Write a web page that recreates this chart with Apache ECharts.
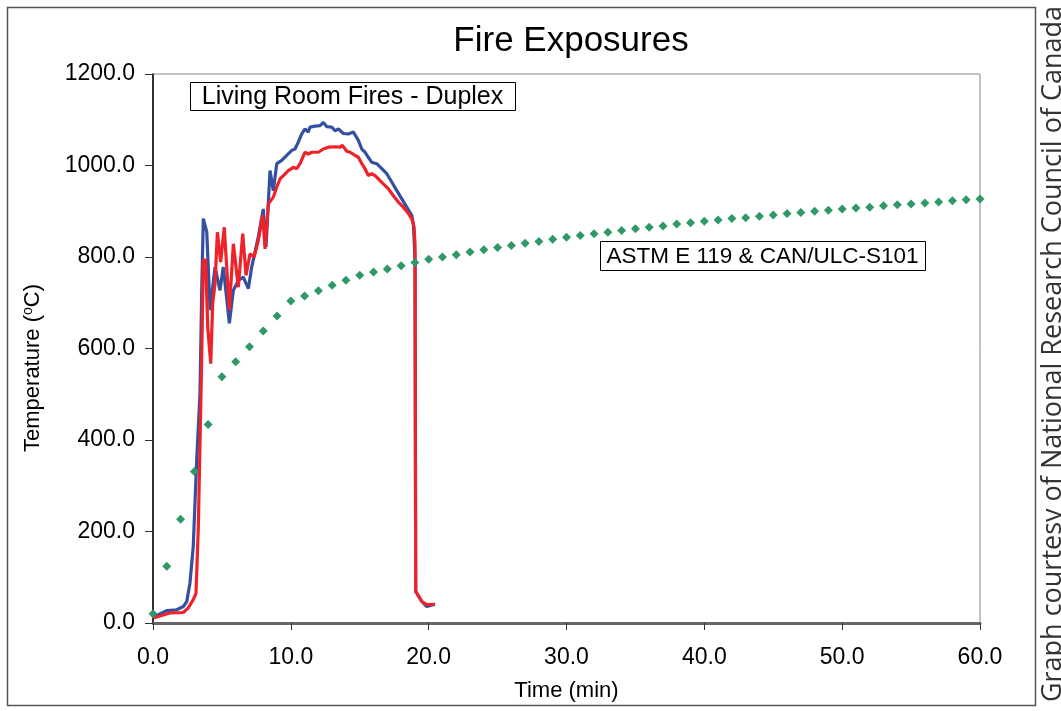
<!DOCTYPE html>
<html>
<head>
<meta charset="utf-8">
<script src="https://cdn.jsdelivr.net/npm/echarts@6/dist/echarts.min.js"></script>
<style>
  html, body { margin: 0; padding: 0; background: #fff; }
  #chart { width: 1061px; height: 711px; }
</style>
</head>
<body>
<div id="chart"></div>
<script>
// living room fire, duplex - two thermocouples
var blueTime = [0, 0.38, 0.99, 1.72, 2.2, 2.45, 2.68, 2.92, 3.17, 3.41, 3.53, 3.65, 3.9, 4.14, 4.5, 4.86, 5.1, 5.54, 5.83, 6.19, 6.55, 6.92, 7.16, 7.64, 8.0, 8.2, 8.49, 8.73, 8.98, 9.34, 9.7, 10.07, 10.3, 10.54, 10.79, 11.03, 11.27, 11.39, 11.76, 12.12, 12.36, 12.6, 12.97, 13.21, 13.45, 13.81, 14.17, 14.54, 14.66, 14.9, 15.15, 15.38, 15.62, 15.87, 16.23, 16.6, 16.96, 17.32, 17.69, 18.05, 18.41, 18.77, 18.89, 18.96, 19.01, 19.06, 19.5, 19.86, 20.34, 20.46];
var blueTemp = [11, 18, 27, 29, 36, 47, 87, 167, 356, 502, 720, 884, 855, 684, 778, 727, 778, 655, 727, 749, 756, 731, 778, 844, 905, 822, 989, 945, 1004, 1011, 1022, 1033, 1036, 1051, 1069, 1080, 1073, 1084, 1086, 1087, 1094, 1085, 1084, 1076, 1080, 1070, 1069, 1073, 1072, 1055, 1036, 1029, 1018, 1007, 1004, 993, 982, 964, 945, 927, 909, 891, 873, 829, 793, 69, 47, 36, 40, 41];

var redTime = [0.02, 1.23, 2.2, 2.56, 2.92, 3.12, 3.29, 3.41, 3.53, 3.65, 3.82, 3.97, 4.19, 4.33, 4.5, 4.67, 4.91, 5.17, 5.54, 5.83, 6.19, 6.51, 6.75, 7.04, 7.33, 7.64, 7.96, 8.13, 8.37, 8.73, 8.98, 9.22, 9.46, 9.82, 10.18, 10.43, 10.67, 11.03, 11.27, 11.52, 12.0, 12.36, 12.72, 13.21, 13.57, 13.74, 14.06, 14.3, 14.66, 14.9, 15.15, 15.38, 15.62, 15.87, 16.11, 16.35, 16.71, 17.08, 17.44, 17.8, 18.16, 18.53, 18.77, 18.94, 19.01, 19.06, 19.5, 19.86, 20.46];
var redTemp = [11, 22, 23, 33, 51, 65, 211, 393, 575, 793, 793, 647, 567, 698, 742, 854, 789, 865, 684, 829, 734, 851, 760, 807, 800, 836, 891, 818, 916, 931, 953, 971, 978, 989, 996, 993, 1004, 1029, 1025, 1029, 1029, 1036, 1040, 1041, 1040, 1044, 1031, 1029, 1022, 1018, 1004, 993, 978, 982, 978, 971, 960, 949, 934, 920, 909, 895, 884, 865, 829, 69, 47, 40, 41];

// standard fire curve, one point per minute 0..60
var astmTemp = [20, 124, 227, 331, 434, 538, 571, 604, 638, 671, 704, 715, 726, 738, 749, 760, 767, 774, 781, 788, 795, 800, 805, 811, 816, 821, 825, 830, 834, 839, 843, 847, 851, 854, 858, 862, 865, 868, 872, 875, 878, 881, 884, 886, 889, 892, 895, 897, 900, 902, 905, 907, 909, 912, 914, 916, 918, 920, 923, 925, 927];

function pairs(xs, ys) {
  return xs.map(function (x, i) { return [x, ys[i]]; });
}
var astmData = astmTemp.map(function (v, i) { return [i, v]; });

var myChart = echarts.init(document.getElementById('chart'));
var fnt = 'Liberation Sans, Arial, sans-serif';

// boxed note: rect + centred text
function noteBox(x, y, w, h, txt, size) {
  return {
    type: 'group', silent: true,
    children: [{
      type: 'rect', shape: { x: x + 0.5, y: y + 0.5, width: w, height: h },
      style: { fill: '#fff', stroke: '#000', lineWidth: 1 }
    }, {
      type: 'text', x: x + w / 2, y: y + h / 2 + 1,
      style: { text: txt, fontFamily: fnt, fontSize: size, fill: '#000',
        textAlign: 'center', textVerticalAlign: 'middle' }
    }]
  };
}

option = {
  animation: false,
  backgroundColor: '#fff',
  title: {
    text: 'Fire Exposures',
    left: 566, top: 19, textAlign: 'center',
    textStyle: { fontFamily: fnt, fontSize: 35, fontWeight: 'normal', color: '#000' }
  },
  graphic: [{
    type: 'rect',
    shape: { x: 7.5, y: 7.5, width: 1028, height: 698 },
    style: { fill: 'none', stroke: '#555', lineWidth: 1.5 },
    silent: true
  },
  noteBox(190, 82, 325, 28, 'Living Room Fires - Duplex', 25),
  noteBox(600, 241, 325, 29, 'ASTM E 119 & CAN/ULC-S101', 22.5),
  {
    // y axis title, sits a little below the axis middle
    type: 'text', x: 33, y: 368, rotation: Math.PI / 2, silent: true,
    style: {
      text: '{a|Temperature (}{s|o}{a|C)}',
      textAlign: 'center', textVerticalAlign: 'middle',
      rich: {
        a: { fontFamily: fnt, fontSize: 22, fill: '#000' },
        s: { fontFamily: fnt, fontSize: 14, fill: '#000', verticalAlign: 'top', padding: [0, 0, 10, 0] }
      }
    }
  },
  {
    type: 'text',
    x: 1053, y: 354, rotation: Math.PI / 2,
    style: {
      text: 'Graph courtesy of National Research Council of Canada',
      fontFamily: 'Open Sans, Noto Sans, sans-serif', fontSize: 27, fill: '#333',
      textAlign: 'center', textVerticalAlign: 'middle'
    },
    silent: true
  }],
  grid: {
    left: 153, right: 81, top: 74, bottom: 88,
    show: true, borderColor: '#888', borderWidth: 1
  },
  xAxis: {
    type: 'value', min: 0, max: 60, interval: 10,
    name: 'Time (min)', nameLocation: 'middle', nameGap: 57,
    nameTextStyle: { fontFamily: fnt, fontSize: 22, color: '#000' },
    axisLine: { lineStyle: { color: '#666', width: 3 } },
    axisTick: { show: true, length: 7, lineStyle: { color: '#333', width: 1 } },
    axisLabel: { fontFamily: fnt, fontSize: 23, color: '#000', margin: 23,
      formatter: function (v) { return v.toFixed(1); } },
    splitLine: { show: false }
  },
  yAxis: {
    type: 'value', min: 0, max: 1200, interval: 200,
    axisLine: { show: true, lineStyle: { color: '#000', width: 1.5 } },
    axisTick: { show: true, length: 8, lineStyle: { color: '#333', width: 1 } },
    axisLabel: { fontFamily: fnt, fontSize: 23, color: '#000', margin: 18,
      formatter: function (v) { return v.toFixed(1); } },
    splitLine: { show: false }
  },
  series: [{
    name: 'TC1', type: 'line', data: pairs(blueTime, blueTemp),
    showSymbol: false, lineStyle: { color: '#3450a0', width: 3.2 }, z: 2
  }, {
    name: 'TC2', type: 'line', data: pairs(redTime, redTemp),
    showSymbol: false, lineStyle: { color: '#ee2228', width: 3.2 }, z: 3
  }, {
    name: 'ASTM E 119', type: 'scatter', data: astmData,
    symbol: 'diamond', symbolSize: [9, 9],
    itemStyle: { color: '#2e9966', opacity: 1 }, z: 4
  }]
};

myChart.setOption(option);
</script>
</body>
</html>
